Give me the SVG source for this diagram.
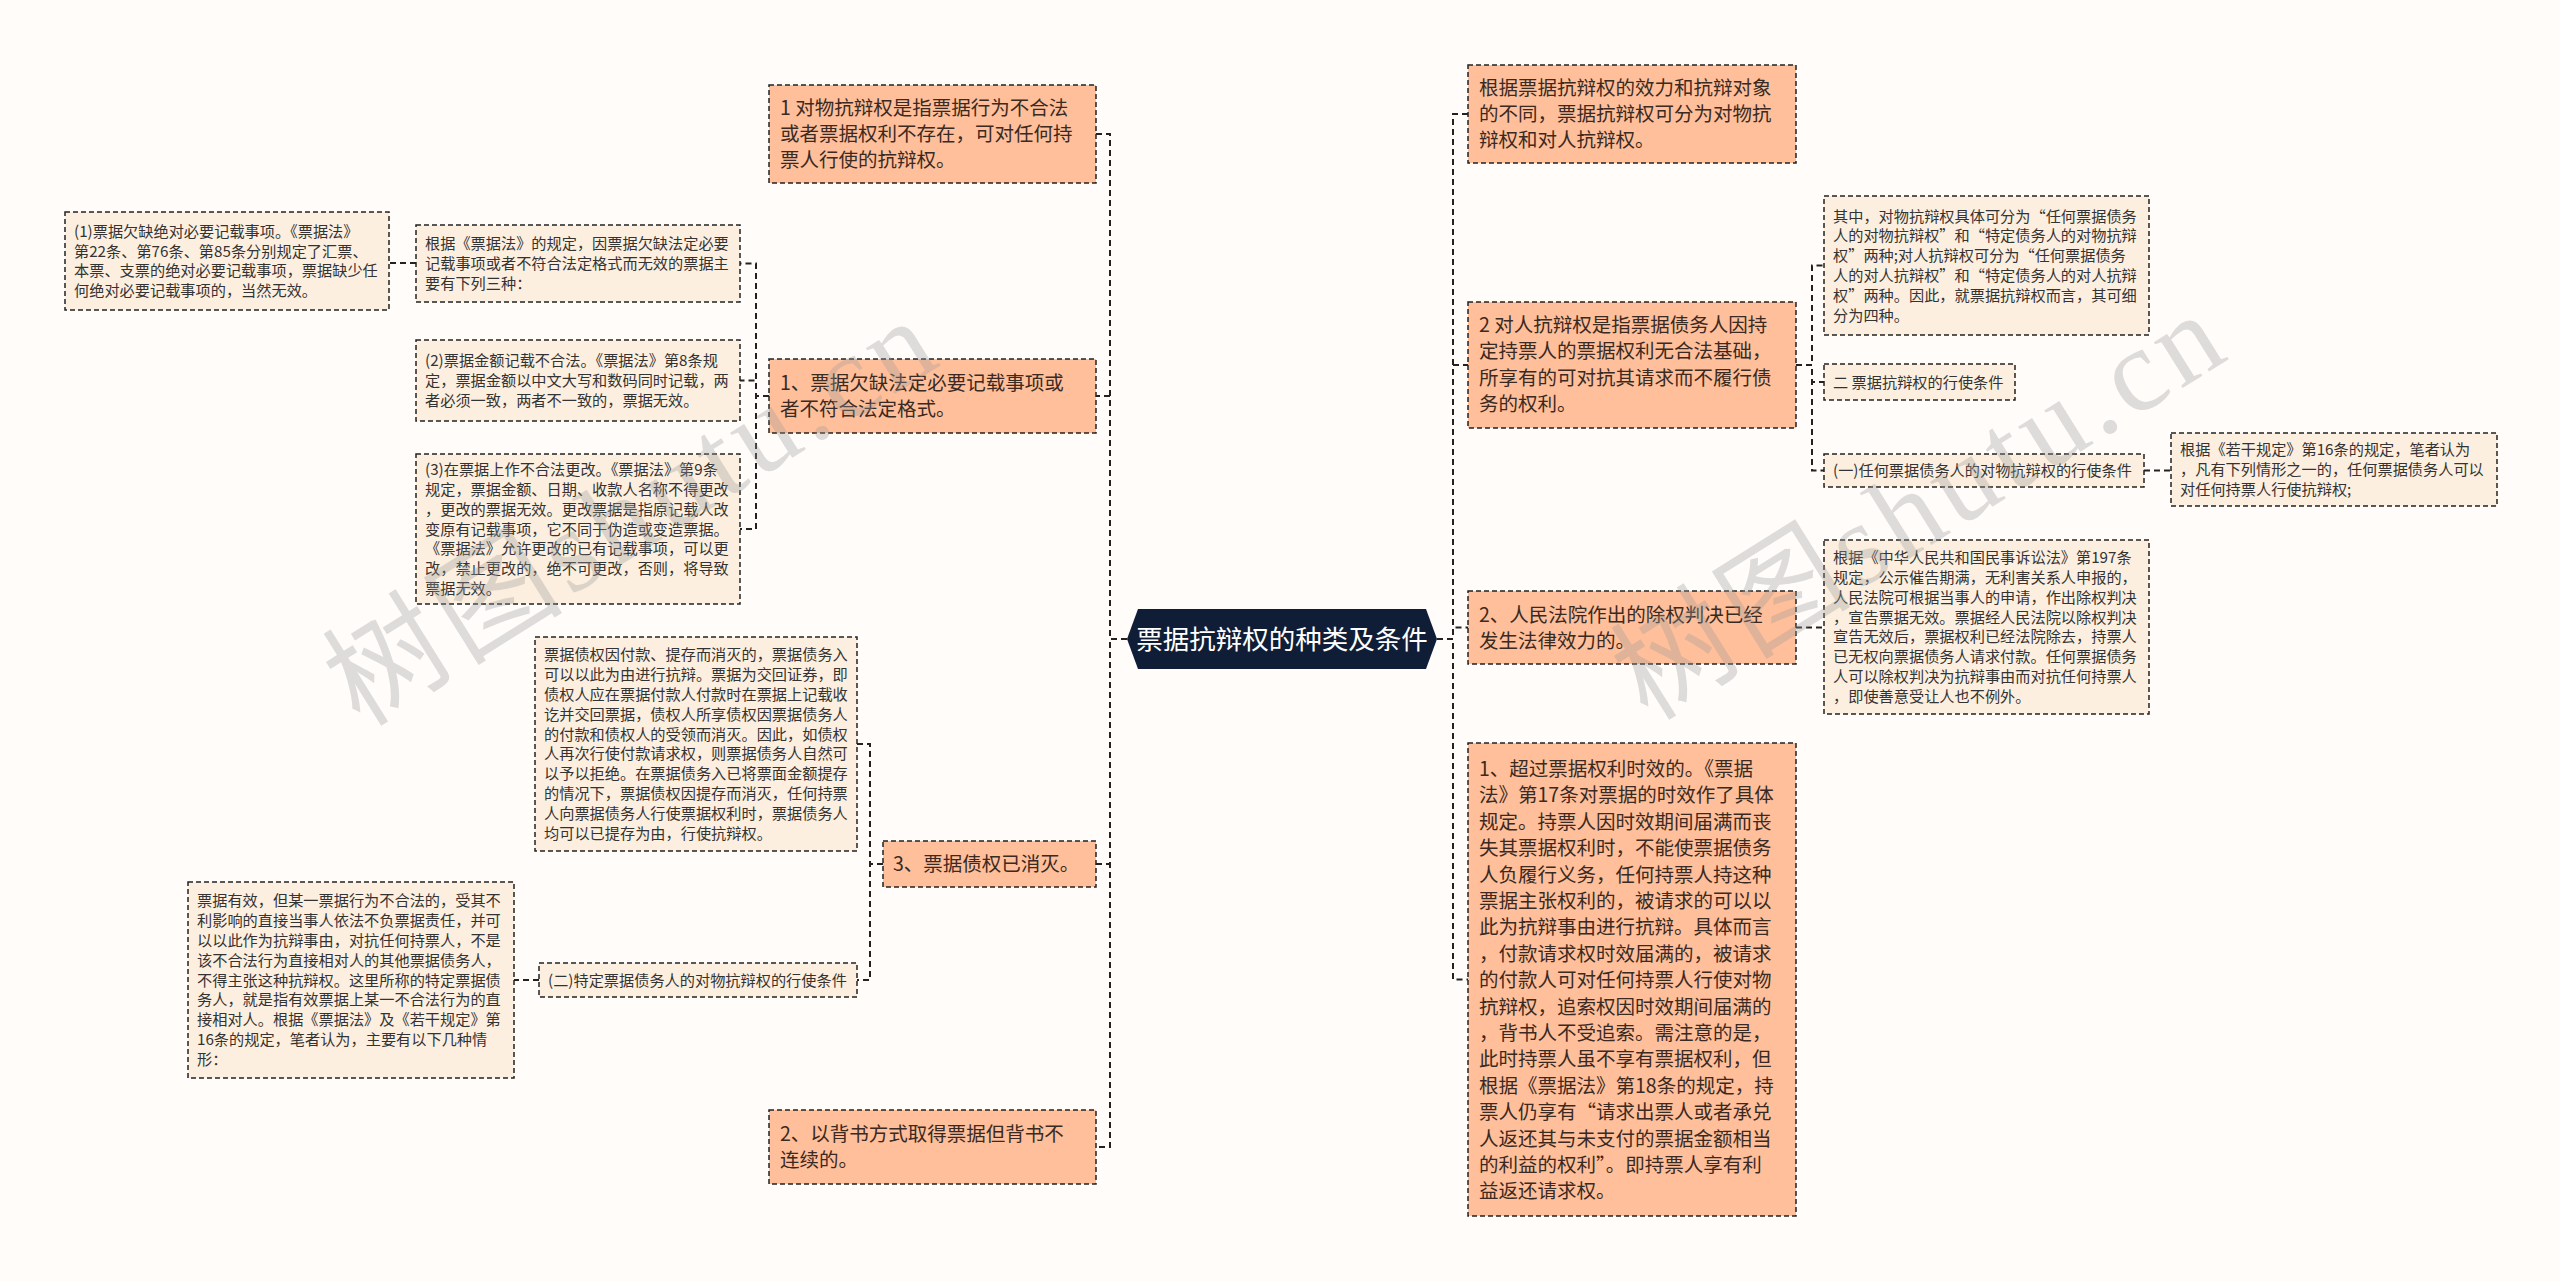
<svg xmlns="http://www.w3.org/2000/svg" width="2560" height="1281" viewBox="0 0 2560 1281">
<defs>
<style>
.n1 rect{fill:#ffbf9a;stroke:#222;stroke-width:1.5;stroke-dasharray:5 3}
.n2 rect{fill:#fdefdf;stroke:#222;stroke-width:1.5;stroke-dasharray:5 3}
.t1{font-family:"Noto Sans CJK SC","Microsoft YaHei",sans-serif;font-size:19.5px;fill:#3a2a22}
.t2{font-family:"Noto Sans CJK SC","Microsoft YaHei",sans-serif;font-size:15.2px;fill:#333}
.conn path{fill:none;stroke:#222;stroke-width:2;stroke-dasharray:6 4}
.wm{font-family:"Liberation Serif","Noto Sans CJK SC",serif;font-size:118px;letter-spacing:6px;fill:#9a9a9a;opacity:0.32}
</style>
</defs>
<rect x="0" y="0" width="2560" height="1281" fill="#fffcfa"/>

<g class="conn" id="connectors">
<path d="M1127 639 H1110 V134 H1096"/>
<path d="M1127 639 H1110 V396 H1096"/>
<path d="M1127 639 H1110 V864 H1096"/>
<path d="M1127 639 H1110 V1147 H1096"/>
<path d="M1437 639 H1453 V114 H1468"/>
<path d="M1437 639 H1453 V365 H1468"/>
<path d="M1437 639 H1453 V627.5 H1468"/>
<path d="M1437 639 H1453 V979.5 H1468"/>
<path d="M769 396 H756 V263.5 H740"/>
<path d="M769 396 H756 V380.5 H740"/>
<path d="M769 396 H756 V529 H740"/>
<path d="M416 263 H389"/>
<path d="M883 864 H870 V744 H857"/>
<path d="M883 864 H870 V980 H857"/>
<path d="M539 980 H514"/>
<path d="M1796 365 H1812 V265.5 H1824"/>
<path d="M1796 365 H1812 V382 H1824"/>
<path d="M1796 365 H1812 V470.5 H1824"/>
<path d="M2144 470.5 H2171"/>
<path d="M1796 627.5 H1824"/>
</g>

<g id="root">
<polygon points="1127,639 1138,609 1426,609 1437,639 1426,669 1138,669" fill="#0f1e36"/>
<text x="1282" y="649" text-anchor="middle" style="font-family:'Noto Sans CJK SC',sans-serif;font-size:26.5px;fill:#ffffff">票据抗辩权的种类及条件</text>
</g>

<g id="nodeA" class="n1">
<rect x="769" y="85" width="327" height="98"/>
<text class="t1"><tspan x="780" y="114.5">1 对物抗辩权是指票据行为不合法</tspan><tspan x="780" dy="26.4">或者票据权利不存在，可对任何持</tspan><tspan x="780" dy="26.4">票人行使的抗辩权。</tspan></text>
</g>
<g id="nodeB" class="n1">
<rect x="769" y="359" width="327" height="74"/>
<text class="t1"><tspan x="780" y="390">1、票据欠缺法定必要记载事项或</tspan><tspan x="780" dy="26.4">者不符合法定格式。</tspan></text>
</g>
<g id="nodeC" class="n1">
<rect x="883" y="841" width="213" height="46"/>
<text class="t1"><tspan x="893" y="871">3、票据债权已消灭。</tspan></text>
</g>
<g id="nodeD" class="n1">
<rect x="769" y="1110" width="327" height="74"/>
<text class="t1"><tspan x="780" y="1141">2、以背书方式取得票据但背书不</tspan><tspan x="780" dy="26.4">连续的。</tspan></text>
</g>
<g id="nodeE" class="n1">
<rect x="1468" y="65" width="328" height="98"/>
<text class="t1"><tspan x="1479" y="94.5">根据票据抗辩权的效力和抗辩对象</tspan><tspan x="1479" dy="26.4">的不同，票据抗辩权可分为对物抗</tspan><tspan x="1479" dy="26.4">辩权和对人抗辩权。</tspan></text>
</g>
<g id="nodeF" class="n1">
<rect x="1468" y="302" width="328" height="126"/>
<text class="t1"><tspan x="1479" y="332">2 对人抗辩权是指票据债务人因持</tspan><tspan x="1479" dy="26.4">定持票人的票据权利无合法基础，</tspan><tspan x="1479" dy="26.4">所享有的可对抗其请求而不履行债</tspan><tspan x="1479" dy="26.4">务的权利。</tspan></text>
</g>
<g id="nodeG" class="n1">
<rect x="1468" y="591" width="328" height="73"/>
<text class="t1"><tspan x="1479" y="621.5">2、人民法院作出的除权判决已经</tspan><tspan x="1479" dy="26.4">发生法律效力的。</tspan></text>
</g>
<g id="nodeH" class="n1">
<rect x="1468" y="743" width="328" height="473"/>
<text class="t1"><tspan x="1479" y="776">1、超过票据权利时效的。《票据</tspan><tspan x="1479" dy="26.4">法》第17条对票据的时效作了具体</tspan><tspan x="1479" dy="26.4">规定。持票人因时效期间届满而丧</tspan><tspan x="1479" dy="26.4">失其票据权利时，不能使票据债务</tspan><tspan x="1479" dy="26.4">人负履行义务，任何持票人持这种</tspan><tspan x="1479" dy="26.4">票据主张权利的，被请求的可以以</tspan><tspan x="1479" dy="26.4">此为抗辩事由进行抗辩。具体而言</tspan><tspan x="1479" dy="26.4">，付款请求权时效届满的，被请求</tspan><tspan x="1479" dy="26.4">的付款人可对任何持票人行使对物</tspan><tspan x="1479" dy="26.4">抗辩权，追索权因时效期间届满的</tspan><tspan x="1479" dy="26.4">，背书人不受追索。需注意的是，</tspan><tspan x="1479" dy="26.4">此时持票人虽不享有票据权利，但</tspan><tspan x="1479" dy="26.4">根据《票据法》第18条的规定，持</tspan><tspan x="1479" dy="26.4">票人仍享有“请求出票人或者承兑</tspan><tspan x="1479" dy="26.4">人返还其与未支付的票据金额相当</tspan><tspan x="1479" dy="26.4">的利益的权利”。即持票人享有利</tspan><tspan x="1479" dy="26.4">益返还请求权。</tspan></text>
</g>

<g id="nodeB0" class="n2">
<rect x="416" y="225" width="324" height="77"/>
<text class="t2"><tspan x="425" y="249.2">根据《票据法》的规定，因票据欠缺法定必要</tspan><tspan x="425" dy="19.8">记载事项或者不符合法定格式而无效的票据主</tspan><tspan x="425" dy="19.8">要有下列三种：</tspan></text>
</g>
<g id="nodeB1" class="n2">
<rect x="65" y="212" width="324" height="98"/>
<text class="t2"><tspan x="74" y="236.8">(1)票据欠缺绝对必要记载事项。《票据法》</tspan><tspan x="74" dy="19.8">第22条、第76条、第85条分别规定了汇票、</tspan><tspan x="74" dy="19.8">本票、支票的绝对必要记载事项，票据缺少任</tspan><tspan x="74" dy="19.8">何绝对必要记载事项的，当然无效。</tspan></text>
</g>
<g id="nodeB2" class="n2">
<rect x="416" y="340" width="324" height="81"/>
<text class="t2"><tspan x="425" y="366.2">(2)票据金额记载不合法。《票据法》第8条规</tspan><tspan x="425" dy="19.8">定，票据金额以中文大写和数码同时记载，两</tspan><tspan x="425" dy="19.8">者必须一致，两者不一致的，票据无效。</tspan></text>
</g>
<g id="nodeB3" class="n2">
<rect x="416" y="454" width="324" height="150"/>
<text class="t2"><tspan x="425" y="475.1">(3)在票据上作不合法更改。《票据法》第9条</tspan><tspan x="425" dy="19.8">规定，票据金额、日期、收款人名称不得更改</tspan><tspan x="425" dy="19.8">，更改的票据无效。更改票据是指原记载人改</tspan><tspan x="425" dy="19.8">变原有记载事项，它不同于伪造或变造票据。</tspan><tspan x="425" dy="19.8">《票据法》允许更改的已有记载事项，可以更</tspan><tspan x="425" dy="19.8">改，禁止更改的，绝不可更改，否则，将导致</tspan><tspan x="425" dy="19.8">票据无效。</tspan></text>
</g>
<g id="nodeC1" class="n2">
<rect x="535" y="637" width="322" height="214"/>
<text class="t2"><tspan x="544" y="660.4">票据债权因付款、提存而消灭的，票据债务入</tspan><tspan x="544" dy="19.8">可以以此为由进行抗辩。票据为交回证券，即</tspan><tspan x="544" dy="19.8">债权人应在票据付款人付款时在票据上记载收</tspan><tspan x="544" dy="19.8">讫并交回票据，债权人所享债权因票据债务人</tspan><tspan x="544" dy="19.8">的付款和债权人的受领而消灭。因此，如债权</tspan><tspan x="544" dy="19.8">人再次行使付款请求权，则票据债务人自然可</tspan><tspan x="544" dy="19.8">以予以拒绝。在票据债务入已将票面金额提存</tspan><tspan x="544" dy="19.8">的情况下，票据债权因提存而消灭，任何持票</tspan><tspan x="544" dy="19.8">人向票据债务人行使票据权利时，票据债务人</tspan><tspan x="544" dy="19.8">均可以已提存为由，行使抗辩权。</tspan></text>
</g>
<g id="nodeC2" class="n2">
<rect x="539" y="963" width="318" height="34"/>
<text class="t2"><tspan x="548" y="985.5">(二)特定票据债务人的对物抗辩权的行使条件</tspan></text>
</g>
<g id="nodeC3" class="n2">
<rect x="188" y="882" width="326" height="196"/>
<text class="t2"><tspan x="197" y="906.3">票据有效，但某一票据行为不合法的，受其不</tspan><tspan x="197" dy="19.8">利影响的直接当事人依法不负票据责任，并可</tspan><tspan x="197" dy="19.8">以以此作为抗辩事由，对抗任何持票人，不是</tspan><tspan x="197" dy="19.8">该不合法行为直接相对人的其他票据债务人，</tspan><tspan x="197" dy="19.8">不得主张这种抗辩权。这里所称的特定票据债</tspan><tspan x="197" dy="19.8">务人，就是指有效票据上某一不合法行为的直</tspan><tspan x="197" dy="19.8">接相对人。根据《票据法》及《若干规定》第</tspan><tspan x="197" dy="19.8">16条的规定，笔者认为，主要有以下几种情</tspan><tspan x="197" dy="19.8">形：</tspan></text>
</g>
<g id="nodeF1" class="n2">
<rect x="1824" y="196" width="325" height="139"/>
<text class="t2"><tspan x="1833" y="221.5">其中，对物抗辩权具体可分为“任何票据债务</tspan><tspan x="1833" dy="19.8">人的对物抗辩权”和“特定债务人的对物抗辩</tspan><tspan x="1833" dy="19.8">权”两种;对人抗辩权可分为“任何票据债务</tspan><tspan x="1833" dy="19.8">人的对人抗辩权”和“特定债务人的对人抗辩</tspan><tspan x="1833" dy="19.8">权”两种。因此，就票据抗辩权而言，其可细</tspan><tspan x="1833" dy="19.8">分为四种。</tspan></text>
</g>
<g id="nodeF2" class="n2">
<rect x="1824" y="364" width="191" height="36"/>
<text class="t2"><tspan x="1833" y="387.5">二 票据抗辩权的行使条件</tspan></text>
</g>
<g id="nodeF3" class="n2">
<rect x="1824" y="454" width="320" height="33"/>
<text class="t2"><tspan x="1833" y="476">(一)任何票据债务人的对物抗辩权的行使条件</tspan></text>
</g>
<g id="nodeF4" class="n2">
<rect x="2171" y="433" width="326" height="73"/>
<text class="t2"><tspan x="2180" y="455.2">根据《若干规定》第16条的规定，笔者认为</tspan><tspan x="2180" dy="19.8">，凡有下列情形之一的，任何票据债务人可以</tspan><tspan x="2180" dy="19.8">对任何持票人行使抗辩权;</tspan></text>
</g>
<g id="nodeG1" class="n2">
<rect x="1824" y="540" width="325" height="174"/>
<text class="t2"><tspan x="1833" y="563.2">根据《中华人民共和国民事诉讼法》第197条</tspan><tspan x="1833" dy="19.8">规定，公示催告期满，无利害关系人申报的，</tspan><tspan x="1833" dy="19.8">人民法院可根据当事人的申请，作出除权判决</tspan><tspan x="1833" dy="19.8">，宣告票据无效。票据经人民法院以除权判决</tspan><tspan x="1833" dy="19.8">宣告无效后，票据权利已经法院除去，持票人</tspan><tspan x="1833" dy="19.8">已无权向票据债务人请求付款。任何票据债务</tspan><tspan x="1833" dy="19.8">人可以除权判决为抗辩事由而对抗任何持票人</tspan><tspan x="1833" dy="19.8">，即使善意受让人也不例外。</tspan></text>
</g>

<g id="watermarks">
<text class="wm" x="360" y="728" transform="rotate(-32 360 728)">树图shutu.cn</text>
<text class="wm" x="1648" y="722" transform="rotate(-32 1648 722)">树图shutu.cn</text>
</g>
</svg>
